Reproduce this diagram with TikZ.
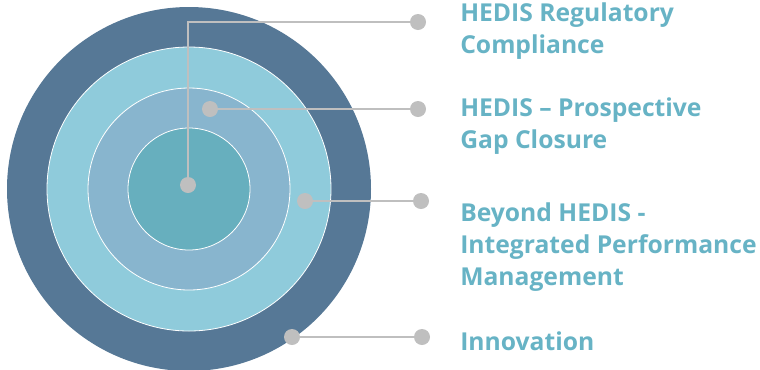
\documentclass[tikz,border=0pt]{standalone}
\usepackage{fontspec}
\setmainfont{Open Sans}
\usetikzlibrary{positioning}

\definecolor{ringouter}{HTML}{567896}
\definecolor{ringtwo}{HTML}{8FCBDB}
\definecolor{ringthree}{HTML}{88B5CE}
\definecolor{ringinner}{HTML}{67AFBE}
\definecolor{dotgray}{HTML}{BFBFBF}
\definecolor{itemblue}{HTML}{67B3C5}

\tikzset{
	ring/.style={draw=white, line width=0.6pt},
	dot/.style={circle, fill=dotgray, inner sep=0pt, minimum size=12pt},
	link/.style={draw=dotgray, line width=2pt},
	itemtext/.style={anchor=base west, inner sep=0pt, align=left, text=itemblue,
		font=\fontsize{18.5}{24}\selectfont\bfseries}
}

\begin{document}
\begin{tikzpicture}[x=0.75pt, y=-0.75pt]
			\useasboundingbox (0,0) rectangle (760,369);
			% rings
			\fill[ringouter] (189,189) circle (182);
			\filldraw[ring, fill=ringtwo] (189,189) circle (142);
			\filldraw[ring, fill=ringthree] (189,189) circle (101);
			\filldraw[ring, fill=ringinner] (189,189) circle (61);
			% dots
			\node[dot] (a1) at (188,185) {};
			\node[dot] (b1) at (418,22) {};
			\node[dot] (a2) at (210,109) {};
			\node[dot] (b2) at (418,109) {};
			\node[dot] (a3) at (305,201) {};
			\node[dot] (b3) at (421,201) {};
			\node[dot] (a4) at (292,337) {};
			\node[dot] (b4) at (422,337) {};
			% connectors
			\draw[link] (a1.center) |- (b1.center);
			\draw[link] (a2) -- (b2);
			\draw[link] (a3) -- (b3);
			\draw[link] (a4) -- (b4);
			% texts (anchored at the last line)
			\node[itemtext] (t1) at (460,53) {HEDIS Regulatory\\Compliance};
			\node[itemtext] (t2) at (460,148) {HEDIS – Prospective\\Gap Closure};
			\node[itemtext] (t3) at (460,285) {Beyond HEDIS -\\Integrated Performance\\Management};
			\node[itemtext] (t4) at (460,350) {Innovation};
\end{tikzpicture}
\end{document}
